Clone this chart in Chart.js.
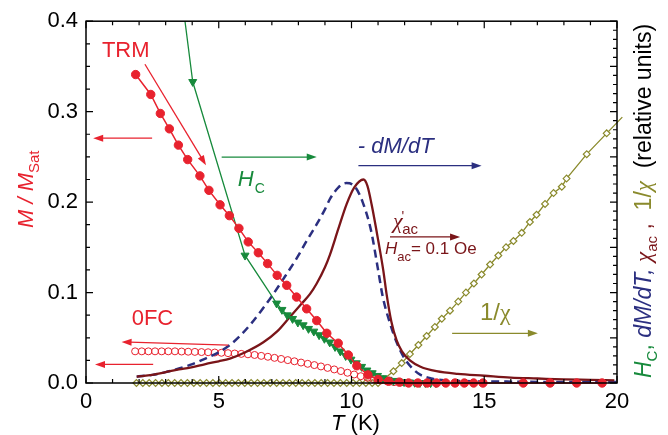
<!DOCTYPE html>
<html>
<head>
<meta charset="utf-8">
<script src="https://cdn.jsdelivr.net/npm/chart.js@4.4.0/dist/chart.umd.min.js"></script>
<style>
  html, body { margin: 0; padding: 0; background: #fff; }
  #wrap { width: 668px; height: 435px; }
</style>
</head>
<body>
<div id="wrap"><canvas id="grafico" width="668" height="435"></canvas></div>
<script>
// TRM (filled red circles)
var trmT = [1.87,2.44,2.80,3.14,3.48,3.83,4.29,4.63,5.05,5.40,5.76,6.11,6.49,6.84,7.20,7.56,7.93,8.31,8.69,9.07,
            9.50,9.88,10.20,10.62,11.00,11.40,11.80,12.15,12.50,12.85,13.20,13.55,13.90,14.25,14.60,14.95,16.47,17.48,18.48,19.44];
var trmM = [0.341,0.319,0.298,0.281,0.263,0.247,0.229,0.213,0.197,0.185,0.171,0.156,0.144,0.132,0.119,0.108,0.095,0.082,0.069,0.055,
            0.044,0.031,0.019,0.009,0.004,0.002,0.001,0,0,0,0,0,0,0,0,0,0,0,0,0];

// 0FC (open red circles)
var fcT = [1.85,2.10,2.35,2.60,2.85,3.10,3.35,3.60,3.85,4.10,4.35,4.60,4.85,5.10,5.35,5.60,5.85,6.10,6.35,6.60,6.85,
           7.10,7.35,7.60,7.85,8.10,8.35,8.60,8.85,9.10,9.35,9.60,9.85,10.10,10.35,10.60,10.85,11.10,11.35,11.60,11.85,12.10];
var fcM = [0.035,0.035,0.035,0.035,0.035,0.035,0.035,0.0348,0.0346,0.0344,0.0342,0.034,0.0337,0.0334,0.033,0.0326,0.0322,0.0317,0.031,0.030,0.029,
           0.0278,0.0266,0.0253,0.024,0.0226,0.0212,0.0198,0.0183,0.0167,0.015,0.0132,0.0113,0.0094,0.0075,0.0058,0.0042,0.0028,0.0017,0.0009,0.0004,0.0001];

// Hc (green down triangles)
var hcT = [3.38,4.02,5.99,7.18,7.38,7.58,7.78,7.98,8.18,8.38,8.58,8.78,8.98,9.18,9.38,9.58,9.78,9.98,10.18,10.38,10.58,
           10.78,10.98,11.18,11.38,11.58,11.78,11.98,12.18,12.38,12.58,12.78,12.98,13.18];
var hcV = [0.48,0.333,0.141,0.088,0.081,0.075,0.071,0.067,0.064,0.060,0.057,0.053,0.049,0.045,0.040,0.035,0.030,0.026,0.022,0.018,0.014,
           0.011,0.008,0.0055,0.0037,0.0025,0.0017,0.0011,0.0007,0.0004,0.0002,0.0001,0,0];

// -dM/dT (navy dashed)
var dmT = [1.91,2.5,3.0,3.5,3.92,4.5,5.0,5.42,5.8,6.2,6.6,7.0,7.5,8.0,8.25,8.68,9.0,9.2,9.5,9.8,
           10.1,10.42,10.74,10.99,11.18,11.45,11.7,12.0,12.3,12.6,13.0,13.5,14.5,16,18,20];
var dmV = [0.007,0.009,0.012,0.016,0.020,0.027,0.034,0.042,0.052,0.065,0.080,0.096,0.118,0.141,0.154,0.175,0.192,0.204,0.216,0.221,
           0.218,0.200,0.168,0.127,0.095,0.066,0.045,0.027,0.016,0.009,0.005,0.003,0.002,0.0015,0.001,0.001];

// chi'ac (maroon)
var acT = [1.91,2.5,3.0,3.5,3.92,4.5,5.0,5.42,6.0,6.68,7.2,7.68,8.1,8.44,8.69,9.0,9.19,9.5,9.82,10.1,
           10.45,10.6,10.76,11.01,11.2,11.32,11.5,11.7,11.9,12.2,12.6,13.2,14,15,16,17,18,19,19.9];
var acV = [0.007,0.009,0.012,0.015,0.017,0.021,0.024,0.027,0.034,0.045,0.057,0.073,0.087,0.0985,0.110,0.128,0.142,0.170,0.198,0.216,
           0.225,0.218,0.197,0.157,0.124,0.0985,0.068,0.047,0.035,0.025,0.018,0.013,0.010,0.008,0.006,0.005,0.004,0.0035,0.003];

// 1/chi (olive open diamonds)
var invT = [1.9,2.14,2.38,2.62,2.86,3.1,3.34,3.58,3.82,4.06,4.3,4.54,4.78,5.02,5.26,5.5,5.74,5.98,6.22,6.46,6.7,6.94,7.18,7.42,
            7.66,7.9,8.14,8.38,8.62,8.86,9.1,9.34,9.58,9.82,10.06,10.3,10.54,10.78,11.0,
            11.20,11.58,11.89,12.20,12.52,12.83,13.14,13.40,13.71,14.02,14.31,14.61,14.90,15.22,15.53,15.82,16.10,16.41,16.72,16.97,
            17.29,17.61,17.92,18.10,18.86,19.61,20.2];
var invV = [0,0,0,0,0,0,0,0,0,0,0,0,0,0,0,0,0,0,0,0,0,0,0,0,
            0,0,0,0,0,0,0,0,0,0,0,0,0,0,0,
            0.004,0.013,0.022,0.032,0.042,0.052,0.062,0.071,0.080,0.090,0.100,0.110,0.120,0.131,0.141,0.150,0.157,0.166,0.178,0.186,
            0.198,0.210,0.217,0.226,0.253,0.276,0.294];

var xTicks = [0, 5, 10, 15, 20];
var yTicks = [0.0, 0.1, 0.2, 0.3, 0.4];

var ROJO = '#e8222e', VERDE = '#178a3c', AZUL = '#2b2f80', GRANATE = '#7a1519', OLIVA = '#8a8a2c';
var SANS = '"Liberation Sans", Arial, Helvetica, sans-serif';
var SERIF = '"Liberation Serif", "DejaVu Serif", serif';

function pares(xs, ys) {
    var out = [];
    for (var i = 0; i < xs.length; i++) out.push({x: xs[i], y: ys[i]});
    return out;
}

function flecha(ctx, x1, y1, x2, y2, color) {
    var ang = Math.atan2(y2 - y1, x2 - x1), L = 10, W = 3.5;
    ctx.save();
    ctx.strokeStyle = color; ctx.fillStyle = color; ctx.lineWidth = 1.3;
    ctx.beginPath(); ctx.moveTo(x1, y1);
    ctx.lineTo(x2 - Math.cos(ang) * L * 0.8, y2 - Math.sin(ang) * L * 0.8); ctx.stroke();
    ctx.beginPath();
    ctx.moveTo(x2, y2);
    ctx.lineTo(x2 - Math.cos(ang) * L - Math.sin(ang) * W, y2 - Math.sin(ang) * L + Math.cos(ang) * W);
    ctx.lineTo(x2 - Math.cos(ang) * L + Math.sin(ang) * W, y2 - Math.sin(ang) * L - Math.cos(ang) * W);
    ctx.closePath(); ctx.fill();
    ctx.restore();
}

// draws a sequence of text pieces (font, colour, vertical offset)
function texto(ctx, x, y, partes) {
    var cx = x;
    partes.forEach(function (p) {
        ctx.font = p.f; ctx.fillStyle = p.c;
        ctx.fillText(p.t, cx, y + (p.dy || 0));
        cx += ctx.measureText(p.t).width + (p.dx || 0);
    });
}

var decoracion = {
    id: 'decoracion',
    afterDatasetsDraw: function (chart) {
        var ctx = chart.ctx, a = chart.chartArea, sx = chart.scales.x, sy = chart.scales.y;
        ctx.save();
        ctx.strokeStyle = '#000'; ctx.lineWidth = 1.5;
        ctx.strokeRect(a.left, a.top, a.right - a.left, a.bottom - a.top);
        ctx.lineWidth = 1.2;
        ctx.beginPath();
        for (var i = 0; i <= 20; i++) { // bottom & top ticks, 1 K
            var px = sx.getPixelForValue(i), l = (i % 5 === 0) ? 7 : 4;
            ctx.moveTo(px, a.bottom); ctx.lineTo(px, a.bottom - l);
            ctx.moveTo(px, a.top); ctx.lineTo(px, a.top + l);
        }
        for (var j = 0; j <= 16; j++) { // left ticks
            var py = sy.getPixelForValue(j * 0.025), l2 = (j % 4 === 0) ? 7 : 4;
            ctx.moveTo(a.left, py); ctx.lineTo(a.left + l2, py);
        }
        for (var k = 0; k <= 40; k++) { // right ticks (relative units)
            var py2 = sy.getPixelForValue(k * 0.01), l3 = (k % 5 === 0) ? 7 : 4;
            ctx.moveTo(a.right, py2); ctx.lineTo(a.right - l3, py2);
        }
        ctx.stroke();
        ctx.restore();
    },
    afterDraw: function (chart) {
        var ctx = chart.ctx, sx = chart.scales.x, sy = chart.scales.y, a = chart.chartArea;
        function X(t) { return sx.getPixelForValue(t); }
        function Y(v) { return sy.getPixelForValue(v); }
        ctx.save();
        ctx.textBaseline = 'alphabetic'; ctx.textAlign = 'left';

        // TRM
        texto(ctx, X(0.60), Y(0.360), [{t: 'TRM', f: '22px ' + SANS, c: ROJO}]);
        flecha(ctx, X(2.22), Y(0.3524), X(4.52), Y(0.2407), ROJO);
        flecha(ctx, X(2.49), Y(0.2707), X(0.27), Y(0.2707), ROJO);

        // Hc
        flecha(ctx, X(5.11), Y(0.2498), X(8.69), Y(0.2498), VERDE);
        texto(ctx, X(5.72), Y(0.2176), [
            {t: 'H', f: 'italic 22px ' + SANS, c: VERDE, dx: 1},
            {t: 'C', f: '14px ' + SANS, c: VERDE, dy: 7}]);

        // -dM/dT
        texto(ctx, X(10.24), Y(0.2538), [{t: '- dM/dT', f: 'italic 22px ' + SANS, c: AZUL}]);
        flecha(ctx, X(10.26), Y(0.2403), X(14.90), Y(0.2403), AZUL);

        // chi'ac
        texto(ctx, X(11.56), Y(0.1714), [
            {t: '\u03C7', f: 'italic 22px ' + SERIF, c: GRANATE, dx: -1},
            {t: '\'', f: '14px ' + SANS, c: GRANATE, dy: -7, dx: -2},
            {t: 'ac', f: '15px ' + SANS, c: GRANATE, dy: 6}]);
        flecha(ctx, X(11.45), Y(0.1615), X(14.09), Y(0.1615), GRANATE);
        texto(ctx, X(11.26), Y(0.1429), [
            {t: 'H', f: 'italic 17px ' + SANS, c: GRANATE},
            {t: 'ac', f: '13px ' + SANS, c: GRANATE, dy: 7},
            {t: '= 0.1 Oe', f: '17px ' + SANS, c: GRANATE}]);

        // 0FC
        texto(ctx, X(1.72), Y(0.0637), [{t: '0FC', f: '22px ' + SANS, c: ROJO}]);
        flecha(ctx, X(5.36), Y(0.0418), X(1.34), Y(0.0454), ROJO);
        flecha(ctx, X(2.53), Y(0.0205), X(0.34), Y(0.0205), ROJO);

        // 1/chi
        texto(ctx, X(14.84), Y(0.0692), [
            {t: '1/', f: '24px ' + SANS, c: OLIVA},
            {t: '\u03C7', f: '24px ' + SERIF, c: OLIVA}]);
        flecha(ctx, X(13.79), Y(0.0549), X(17.02), Y(0.0549), OLIVA);

        // x title
        texto(ctx, 331, 430, [
            {t: 'T', f: 'italic 22px ' + SANS, c: '#000'},
            {t: ' (K)', f: '22px ' + SANS, c: '#000'}]);

        // left title (rotated)
        ctx.save();
        ctx.translate(33, 228); ctx.rotate(-Math.PI / 2);
        texto(ctx, 0, 0, [
            {t: 'M / M', f: 'italic 22px ' + SANS, c: ROJO},
            {t: 'Sat', f: '15px ' + SANS, c: ROJO, dy: 6}]);
        ctx.restore();

        // right title (rotated)
        ctx.save();
        ctx.translate(651, 378); ctx.rotate(-Math.PI / 2);
        texto(ctx, 0, 0, [
            {t: 'H', f: 'italic 23px ' + SANS, c: VERDE},
            {t: 'C', f: '15px ' + SANS, c: VERDE, dy: 6},
            {t: ', ', f: '23px ' + SANS, c: VERDE},
            {t: 'dM/dT, ', f: 'italic 23px ' + SANS, c: AZUL},
            {t: '\u03C7', f: 'italic 23px ' + SERIF, c: GRANATE},
            {t: 'ac', f: '15px ' + SANS, c: GRANATE, dy: 6},
            {t: ' ,  ', f: '23px ' + SANS, c: GRANATE},
            {t: '1/', f: '23px ' + SANS, c: OLIVA},
            {t: '\u03C7', f: 'italic 23px ' + SERIF, c: OLIVA},
            {t: '  (relative units)', f: '23px ' + SANS, c: '#000'}]);
        ctx.restore();
        ctx.restore();
    }
};

var ctx = document.getElementById('grafico');
var grafico = new Chart(ctx, {
    type: 'line',
    data: {
        datasets: [{
            label: 'TRM',
            data: pares(trmT, trmM),
            borderColor: ROJO, backgroundColor: ROJO, borderWidth: 1.5,
            pointStyle: 'circle', pointRadius: 4.2, pointBorderWidth: 1,
            tension: 0, clip: false
        }, {
            label: 'Hc',
            data: pares(hcT, hcV),
            borderColor: VERDE, backgroundColor: VERDE, borderWidth: 1.3,
            pointStyle: 'triangle', pointRotation: 180, pointRadius: 4.6, pointBorderWidth: 1,
            tension: 0, clip: {left: false, top: 0, right: false, bottom: false}
        }, {
            label: 'chi ac',
            data: pares(acT, acV),
            borderColor: GRANATE, borderWidth: 2.3, pointRadius: 0,
            cubicInterpolationMode: 'monotone', clip: false
        }, {
            label: '-dM/dT',
            data: pares(dmT, dmV),
            borderColor: AZUL, borderWidth: 2.5, borderDash: [8, 5], pointRadius: 0,
            cubicInterpolationMode: 'monotone', clip: false
        }, {
            label: '0FC',
            data: pares(fcT, fcM),
            borderColor: ROJO, backgroundColor: 'rgba(255,255,255,0)', showLine: false,
            pointStyle: 'circle', pointRadius: 3.5, pointBorderWidth: 1, clip: false
        }, {
            label: '1/chi',
            data: pares(invT, invV),
            borderColor: OLIVA, backgroundColor: '#fff', borderWidth: 1.3,
            pointStyle: 'rectRot', pointBorderWidth: 1.2,
            pointRadius: function (c) { return c.dataIndex === invT.length - 1 ? 0 : 3.4; },
            tension: 0, clip: false
        }]
    },
    options: {
        responsive: false,
        animation: false,
        layout: {padding: {left: 0, right: 51, top: 19, bottom: 0}},
        plugins: {legend: {display: false}, tooltip: {enabled: false}},
        scales: {
            x: {
                type: 'linear', min: 0, max: 20,
                afterBuildTicks: function (s) { s.ticks = xTicks.map(function (v) { return {value: v}; }); },
                afterFit: function (s) { s.height = 52; },
                ticks: {color: '#000', font: {size: 22, family: SANS}, padding: 6, maxRotation: 0,
                        callback: function (v) { return String(v); }},
                grid: {display: false, drawTicks: false},
                border: {display: false}
            },
            y: {
                type: 'linear', min: 0, max: 0.4,
                afterBuildTicks: function (s) { s.ticks = yTicks.map(function (v) { return {value: v}; }); },
                afterFit: function (s) { s.width = 86; },
                ticks: {color: '#000', font: {size: 22, family: SANS}, padding: 8,
                        callback: function (v) { return Number(v).toFixed(1); }},
                grid: {display: false, drawTicks: false},
                border: {display: false}
            }
        }
    },
    plugins: [decoracion]
});
</script>
</body>
</html>
